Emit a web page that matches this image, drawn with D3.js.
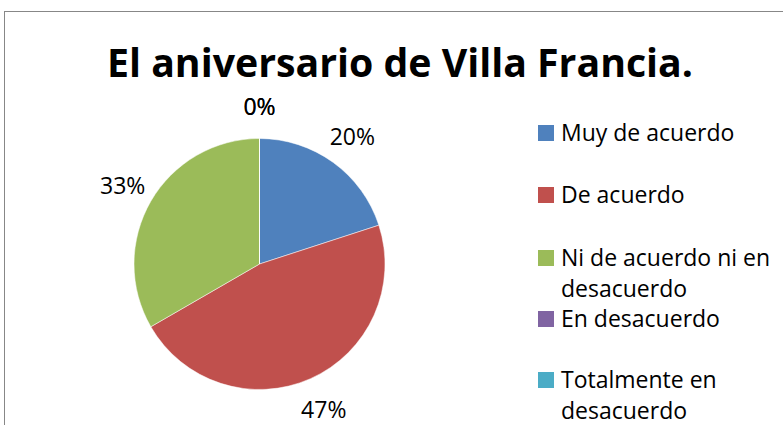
<!DOCTYPE html>
<html>
<head>
<meta charset="utf-8">
<script src="https://cdn.jsdelivr.net/npm/d3@7"></script>
<style>
  html, body { margin: 0; padding: 0; background: #fff; }
  svg { display: block; }
  text { font-family: "Open Sans", Lato, sans-serif; fill: #000; }
</style>
</head>
<body>
<svg id="chart" width="783" height="425"></svg>
<script>
const title = "El aniversario de Villa Francia.";
const categories = ["Muy de acuerdo", "De acuerdo", "Ni de acuerdo ni en desacuerdo", "En desacuerdo", "Totalmente en desacuerdo"];
const legendLines = [["Muy de acuerdo"], ["De acuerdo"], ["Ni de acuerdo ni en", "desacuerdo"], ["En desacuerdo"], ["Totalmente en", "desacuerdo"]];
const values = [6, 14, 10, 0, 0];
const colors = ["#4F81BD", "#C0504D", "#9BBB59", "#8064A2", "#4BACC6"];

const svg = d3.select("#chart");
const W = 783, H = 425;

// chart border
svg.append("rect")
  .attr("x", 4.5).attr("y", 11.5)
  .attr("width", W + 20).attr("height", H + 20)
  .attr("fill", "#fff").attr("stroke", "#878787").attr("stroke-width", 1);

// title
svg.append("text")
  .attr("x", 107).attr("y", 77)
  .attr("font-size", 39).attr("font-weight", "bold")
  .attr("textLength", 586).attr("lengthAdjust", "spacingAndGlyphs")
  .text(title);

// pie
const cx = 259.5, cy = 264, R = 125.5;
const total = d3.sum(values);
const pie = d3.pie().sort(null).value(d => d)(values);
const arc = d3.arc().innerRadius(0).outerRadius(R);
const labelArc = d3.arc().innerRadius(158).outerRadius(158);
const g = svg.append("g").attr("transform", `translate(${cx},${cy})`);
g.selectAll("path.slice").data(pie).join("path")
  .attr("class", "slice")
  .attr("d", arc)
  .attr("fill", (d, i) => colors[i])
  .attr("stroke", "#fff").attr("stroke-width", 0.5);

const fmt = d3.format(".0%");
g.selectAll("text.lbl").data(pie).join("text")
  .attr("class", "lbl")
  .attr("transform", d => `translate(${labelArc.centroid(d)})`)
  .attr("text-anchor", "middle")
  .attr("dy", "0.4em")
  .attr("font-size", 23)
  .text(d => fmt(d.data / total));

// legend
const itemBaselines = [141, 203, 266, 327, 388];
const leg = svg.append("g");
legendLines.forEach((lines, i) => {
  const yb = itemBaselines[i];
  leg.append("rect")
    .attr("x", 538).attr("y", yb - 16)
    .attr("width", 16).attr("height", 16)
    .attr("fill", colors[i]);
  const tx = leg.append("text")
    .attr("x", 561).attr("y", yb)
    .attr("font-size", 23);
  lines.forEach((ln, j) => {
    tx.append("tspan").attr("x", 561).attr("y", yb + j * 31).text(ln);
  });
});
</script>
</body>
</html>
